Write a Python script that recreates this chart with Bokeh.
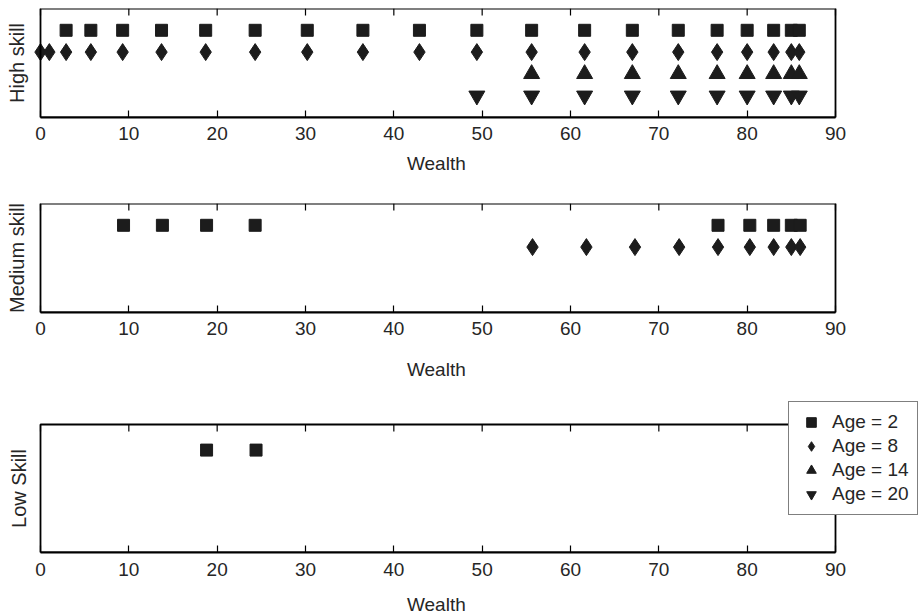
from bokeh.plotting import figure
from bokeh.layouts import column
from bokeh.models import (ColumnDataSource, FixedTicker, Legend, LegendItem,
                          Range1d, BoxAnnotation, Title)
from bokeh.embed import file_html
from bokeh.resources import INLINE

# ---------------- data ----------------
ages = [2, 8, 14, 20]
age_rows = [4, 3, 2, 1]          # vertical slot of each age in every panel
x_ticks = [0, 10, 20, 30, 40, 50, 60, 70, 80, 90]

high_age2 = [2.9, 5.7, 9.3, 13.7, 18.7, 24.3, 30.2, 36.5, 42.9, 49.4,
             55.6, 61.6, 67.0, 72.2, 76.6, 80.0, 83.0, 85.0, 85.9]
high_age8 = [0.0, 1.0, 2.9, 5.7, 9.3, 13.7, 18.7, 24.3, 30.2, 36.5, 42.9,
             49.4, 55.6, 61.6, 67.0, 72.2, 76.6, 80.0, 83.0, 85.0, 85.9]
high_age14 = [55.6, 61.6, 67.0, 72.2, 76.6, 80.0, 83.0, 85.0, 85.9]
high_age20 = [49.4, 55.6, 61.6, 67.0, 72.2, 76.6, 80.0, 83.0, 85.0, 85.9]

med_age2 = [9.4, 13.8, 18.8, 24.3, 76.7, 80.3, 83.0, 85.0, 86.0]
med_age8 = [55.7, 61.8, 67.3, 72.3, 76.7, 80.3, 83.0, 85.0, 86.0]
med_age14 = []
med_age20 = []

low_age2 = [18.8, 24.4]
low_age8 = []
low_age14 = []
low_age20 = []

panel_titles = ["High skill", "Medium skill", "Low Skill"]
x_label = "Wealth"
legend_labels = ["Age = 2", "Age = 8", "Age = 14", "Age = 20"]

X_MAX = 90
Y_MAX = 5

# ---------------- style ----------------
FONT = "Liberation Sans"
INK = "#1c1c1c"
TXT = "#262626"
markers = ["square", "diamond", "triangle", "inverted_triangle"]
msizes = [12, 17, 16, 16]

W = 920
BOX_LEFT = 40            # canvas x of wealth 0
BOX_W = 795              # pixels for wealth 0..90
PAD_L = 7                # frame extends this far left of the box (unclipped markers)
FRAME_RIGHT = 918        # frame reaches under the legend
TICK_LEN = 7
XLABEL_CENTER = 436      # canvas x of the centre of the "Wealth" label

PX_PER_UNIT = BOX_W / X_MAX
X_START = -PAD_L / PX_PER_UNIT
X_END = X_MAX + (FRAME_RIGHT - BOX_LEFT - BOX_W) / PX_PER_UNIT


def make_panel(title, series, height, top, data_h, extra_top,
               tick_standoff, label_standoff, label_pad, ylabel_as_title=False):
    """data_h: pixels for y 0..5; extra_top: frame pixels above y=5."""
    frame_h = data_h + extra_top
    bottom = height - top - frame_h
    y_end = Y_MAX * frame_h / data_h
    p = figure(width=W, height=height, output_backend="svg", toolbar_location=None,
               x_range=Range1d(X_START, X_END), y_range=Range1d(0, y_end),
               min_border_left=BOX_LEFT - PAD_L, min_border_right=W - FRAME_RIGHT,
               min_border_top=top, min_border_bottom=bottom,
               background_fill_color="white", border_fill_color="white")
    p.grid.visible = False
    p.outline_line_color = None
    p.add_layout(BoxAnnotation(left=0, right=X_MAX, bottom=0, top=Y_MAX,
                               fill_color=None, line_color="black",
                               line_width=1.8, line_alpha=1.0))

    xa = p.xaxis[0]
    xa.ticker = FixedTicker(ticks=x_ticks)
    xa.bounds = (0, X_MAX)
    xa.axis_line_color = "black"
    xa.axis_line_width = 2
    xa.major_tick_in = TICK_LEN
    xa.major_tick_out = 0
    xa.major_tick_line_color = "black"
    xa.major_tick_line_width = 1.2
    xa.minor_tick_line_color = None
    xa.major_label_text_font = FONT
    xa.major_label_text_font_size = "19px"
    xa.major_label_text_color = TXT
    xa.major_label_standoff = tick_standoff

    # x label as a title below the axis, centred on wealth 0..90
    label_w = 3.111 * 19
    p.add_layout(Title(text=x_label, align="left",
                       offset=XLABEL_CENTER - label_w / 2 - (BOX_LEFT - PAD_L),
                       vertical_align="top", standoff=label_standoff,
                       padding=dict(left=0, right=0, top=label_pad, bottom=0),
                       text_font=FONT, text_font_size="19px",
                       text_font_style="normal", text_color=TXT), "below")

    ya = p.yaxis[0]
    ya.ticker = FixedTicker(ticks=[])
    ya.axis_line_color = None
    ya.major_tick_line_color = None
    ya.minor_tick_line_color = None
    ya.major_tick_in = 0
    ya.major_tick_out = 0
    ya.major_label_standoff = 0
    if ylabel_as_title:
        # label centred on the 0..5 box rather than on the (taller) frame
        lab_len = 3.945 * 20
        p.add_layout(Title(text=title, align="left",
                           offset=data_h / 2 - lab_len / 2,
                           vertical_align="top", standoff=4,
                           text_font=FONT, text_font_size="20px",
                           text_font_style="normal", text_color=TXT), "left")
    else:
        ya.axis_label = title
        ya.axis_label_text_font = FONT
        ya.axis_label_text_font_size = "20px"
        ya.axis_label_text_font_style = "normal"
        ya.axis_label_text_color = TXT
        ya.axis_label_standoff = 13 - PAD_L

    # inward ticks on the top edge, one per x tick
    d = TICK_LEN * Y_MAX / data_h
    p.segment(x0=x_ticks, x1=x_ticks, y0=[Y_MAX] * len(x_ticks),
              y1=[Y_MAX - d] * len(x_ticks), line_color="black", line_width=1.2)

    for xs, row, mk, ms in zip(series, age_rows, markers, msizes):
        src = ColumnDataSource(dict(x=xs, y=[row] * len(xs)))
        p.scatter("x", "y", source=src, marker=mk, size=ms,
                  fill_color=INK, line_color=INK, line_width=1)
    return p


p1 = make_panel(panel_titles[0], [high_age2, high_age8, high_age14, high_age20],
                height=198, top=8, data_h=109, extra_top=0,
                tick_standoff=9, label_standoff=10, label_pad=5)
p2 = make_panel(panel_titles[1], [med_age2, med_age8, med_age14, med_age20],
                height=196, top=5, data_h=109, extra_top=0,
                tick_standoff=9, label_standoff=21, label_pad=11)
p3 = make_panel(panel_titles[2], [low_age2, low_age8, low_age14, low_age20],
                height=222, top=6, data_h=128, extra_top=24,
                tick_standoff=10, label_standoff=0, label_pad=15,
                ylabel_as_title=True)

# legend keys: one marker proxy per age (NaN position, so it draws only in the legend)
nan = float("nan")
legend_items = []
for lab, mk, ms in zip(legend_labels, markers, msizes):
    proxy = p3.scatter(x=[nan], y=[nan], marker=mk, size=ms,
                       fill_color=INK, line_color=INK, line_width=1)
    legend_items.append(LegendItem(label=lab, renderers=[proxy]))

legend = Legend(items=legend_items,
                location=(788 - (BOX_LEFT - PAD_L), 37),
                label_text_font=FONT, label_text_font_size="19px", label_text_color=TXT,
                label_standoff=7, glyph_width=28, glyph_height=24, label_height=24,
                spacing=0, padding=8, margin=0,
                border_line_color="black", border_line_width=1.5,
                background_fill_color="white", background_fill_alpha=1.0)
p3.add_layout(legend, "center")

layout = column(p1, p2, p3, spacing=0)

open("out.html", "w").write(file_html(layout, INLINE))
